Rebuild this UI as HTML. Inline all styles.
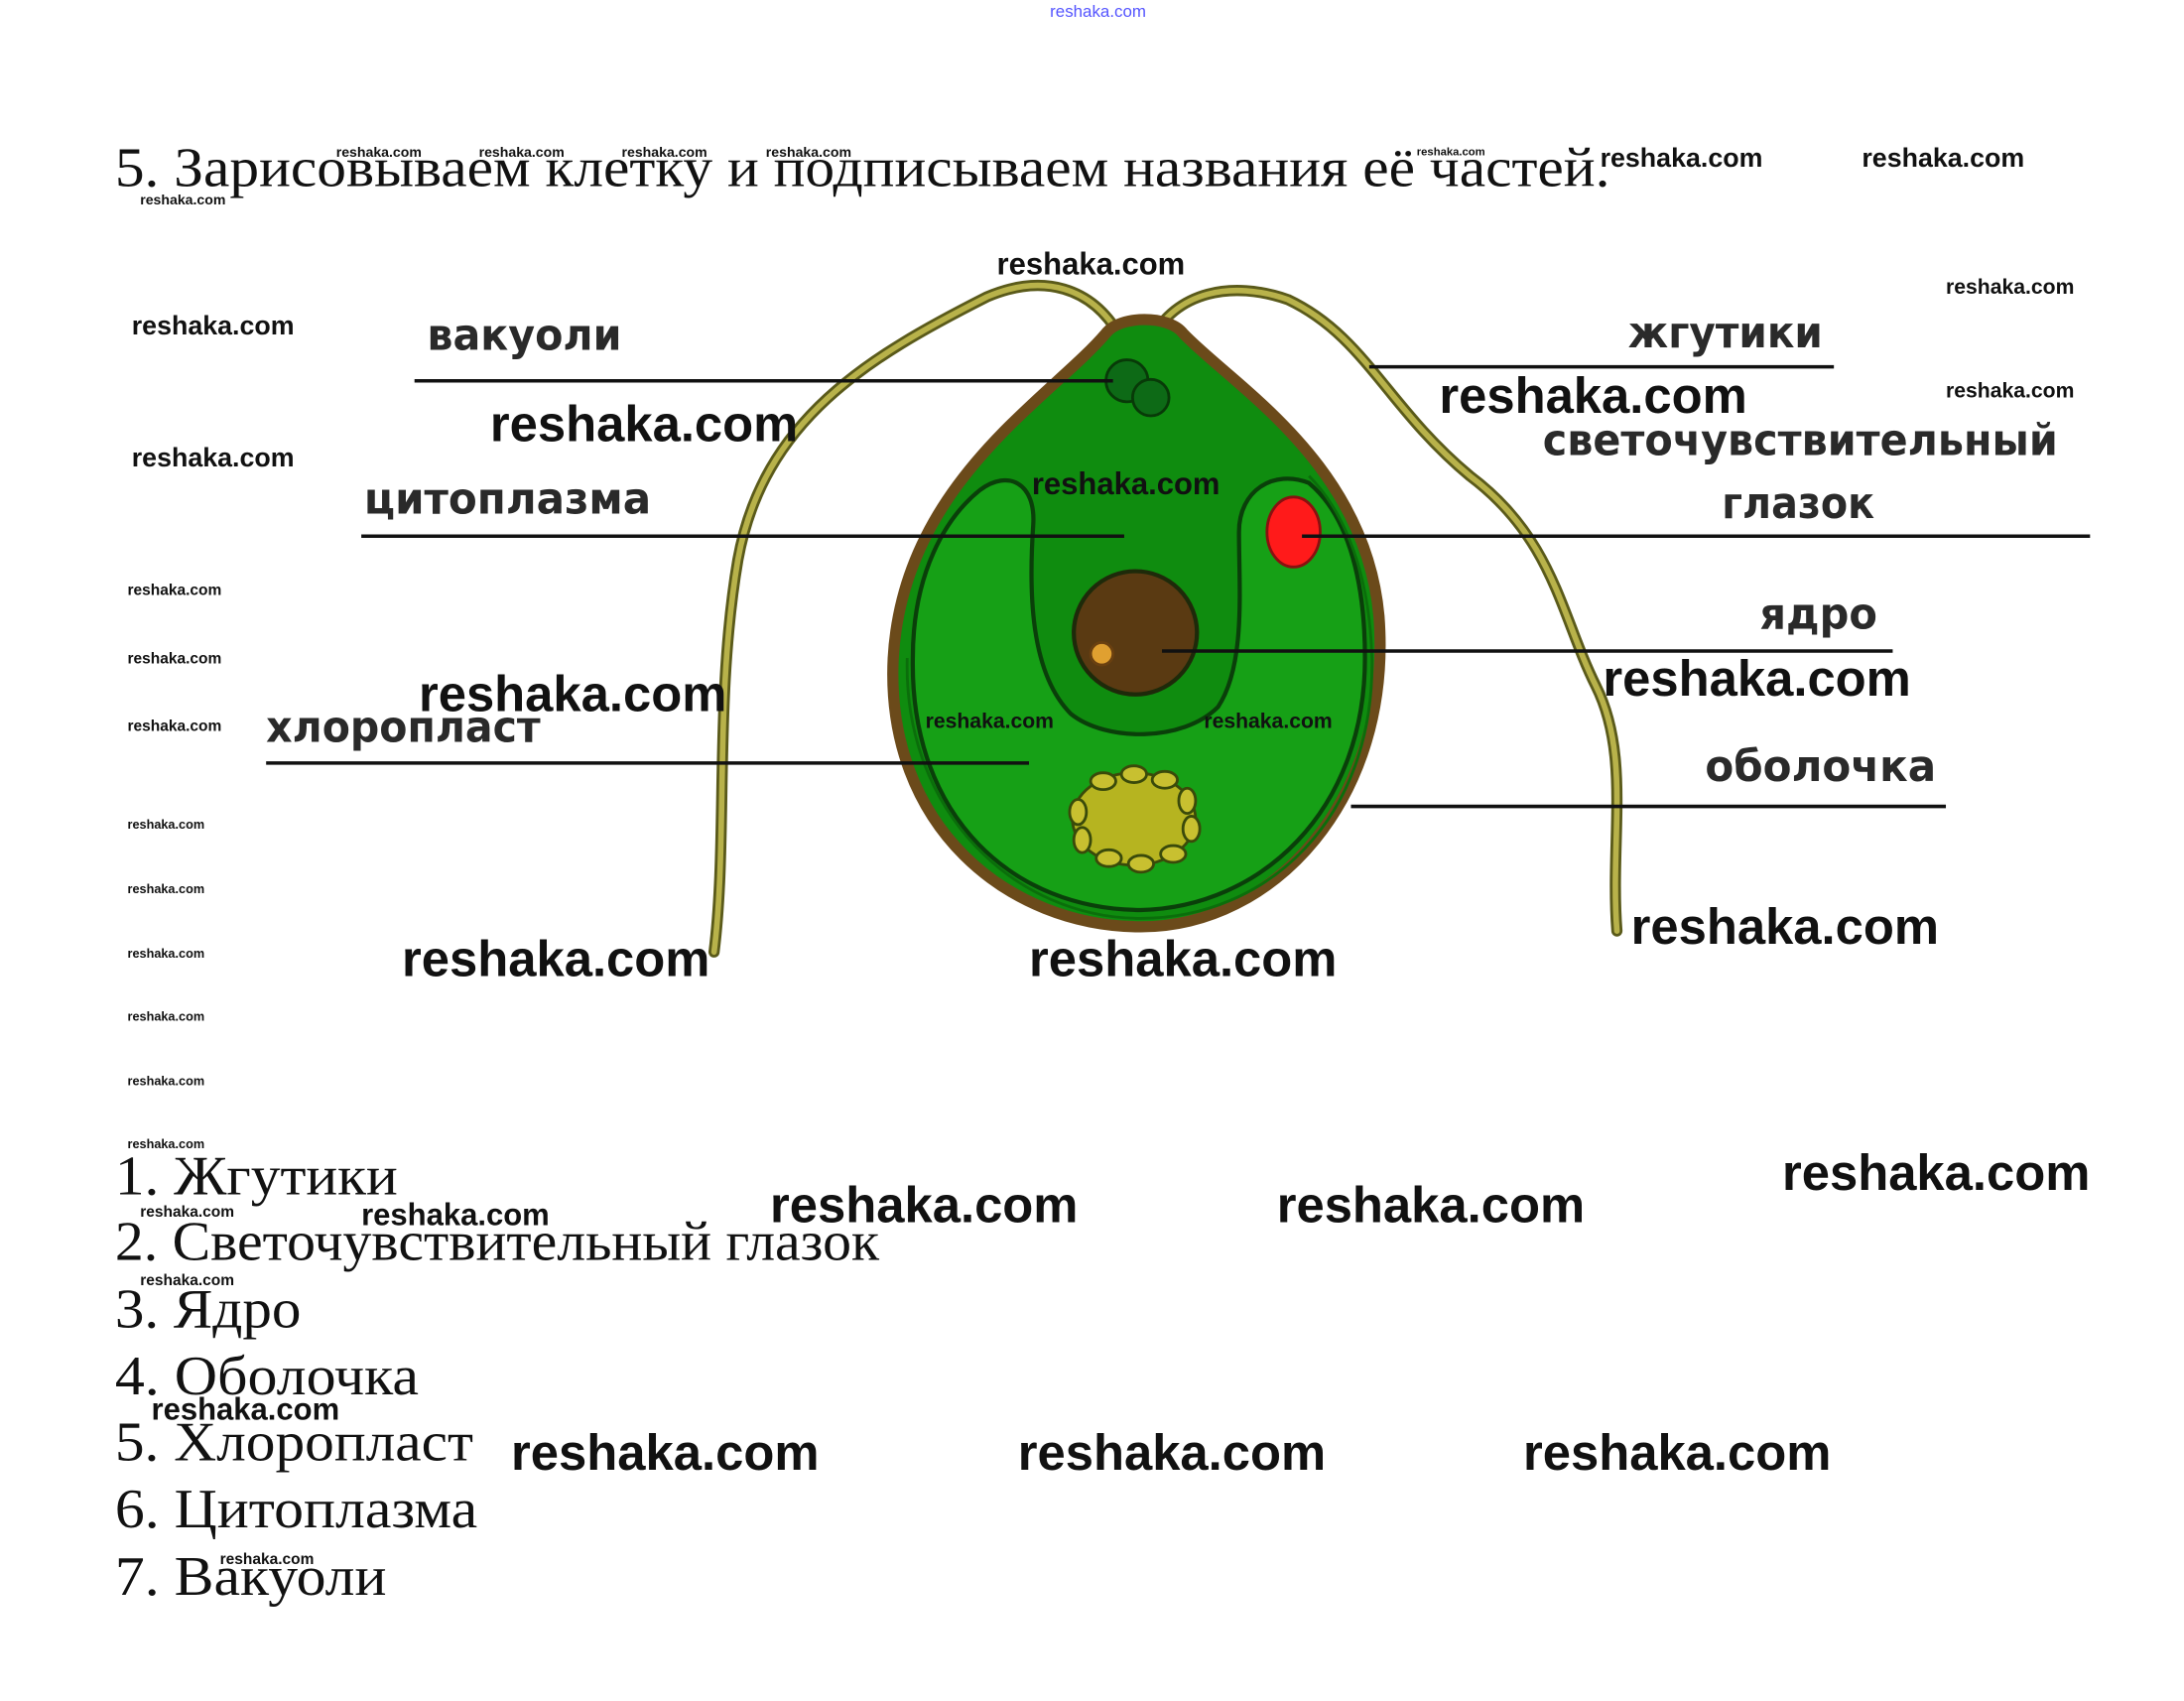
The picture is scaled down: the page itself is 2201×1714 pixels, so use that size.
<!DOCTYPE html>
<html><head><meta charset="utf-8"><style>
html,body{margin:0;padding:0;background:#fff;width:2201px;height:1714px;overflow:hidden}
svg{display:block}
.w{font-family:"Liberation Sans",sans-serif;fill:#111;font-weight:bold}
.lb{font-family:"DejaVu Sans","Liberation Sans",sans-serif;font-size:31px;fill:#2a2a2a;font-weight:bold}
.sr{font-family:"Liberation Serif","DejaVu Serif",serif;font-size:40px;fill:#111}
</style></head><body>
<svg width="2201" height="1714" viewBox="0 0 1560 1215" xmlns="http://www.w3.org/2000/svg">
<rect width="1560" height="1215" fill="#fff"/>
<text x="750" y="12" font-family="Liberation Sans" font-size="12" fill="#55f">reshaka.com</text>
<text class="sr" x="82" y="133" textLength="1068" lengthAdjust="spacingAndGlyphs">5. Зарисовываем клетку и подписываем названия её частей.</text>

<g fill="none" stroke-linecap="round">
<path d="M800,240 C780,205 745,195 705,212 C620,255 545,300 527,400 C510,500 520,600 510,680" stroke="#5a5a1a" stroke-width="8"/>
<path d="M800,240 C780,205 745,195 705,212 C620,255 545,300 527,400 C510,500 520,600 510,680" stroke="#b8b24a" stroke-width="4"/>
<path d="M822,243 C840,208 880,200 920,214 C975,240 990,290 1050,340 C1110,385 1115,440 1140,490 C1165,540 1150,600 1155,665" stroke="#5a5a1a" stroke-width="8"/>
<path d="M822,243 C840,208 880,200 920,214 C975,240 990,290 1050,340 C1110,385 1115,440 1140,490 C1165,540 1150,600 1155,665" stroke="#b8b24a" stroke-width="4"/>
</g>
<path d="M790,238 C800,225 835,225 845,238 C880,275 975,330 985,440 C995,570 910,662 815,662 C720,662 632,590 638,470 C645,345 750,285 790,238 Z" fill="#0f8c0f" stroke="#6b4a1a" stroke-width="8"/>
<path d="M700,350 C720,335 740,345 738,375 C735,420 735,480 765,510 C790,530 845,530 870,505 C890,475 885,420 885,380 C885,350 910,335 935,345 C965,370 975,420 975,470 C975,580 900,648 815,650 C725,650 650,585 652,470 C652,410 675,370 700,350 Z" fill="#16a016" stroke="#0a3f0a" stroke-width="3"/>
<path d="M648,470 C645,580 725,656 815,656 C905,656 982,585 980,470 C978,400 955,360 935,340" fill="none" stroke="#0b6e0b" stroke-width="2"/>
<circle cx="805" cy="272" r="15" fill="#0d6a16" stroke="#083a08" stroke-width="2"/>
<circle cx="822" cy="284" r="13" fill="#0d6a16" stroke="#083a08" stroke-width="2"/>
<ellipse cx="924" cy="380" rx="19" ry="25" fill="#ff1a1a" stroke="#8a1010" stroke-width="2"/>
<circle cx="811" cy="452" r="44" fill="#5a3a12" stroke="#1e2a0a" stroke-width="3"/>
<circle cx="787" cy="467" r="8" fill="#e0a030" stroke="#6a4010" stroke-width="2"/>
<ellipse cx="810" cy="585" rx="44" ry="33" fill="#b6b420" stroke="#3a4a0a" stroke-width="2"/>
<g fill="#c8c030" stroke="#3a4a0a" stroke-width="2">
<ellipse cx="810" cy="553" rx="9" ry="6"/><ellipse cx="832" cy="557" rx="9" ry="6"/><ellipse cx="848" cy="572" rx="6" ry="9"/><ellipse cx="851" cy="592" rx="6" ry="9"/><ellipse cx="838" cy="610" rx="9" ry="6"/><ellipse cx="815" cy="617" rx="9" ry="6"/><ellipse cx="792" cy="613" rx="9" ry="6"/><ellipse cx="773" cy="600" rx="6" ry="9"/><ellipse cx="770" cy="580" rx="6" ry="9"/><ellipse cx="788" cy="558" rx="9" ry="6"/>
</g>
<g stroke="#111" stroke-width="2.5">
<line x1="296" y1="272" x2="795" y2="272"/>
<line x1="258" y1="383" x2="803" y2="383"/>
<line x1="190" y1="545" x2="735" y2="545"/>
<line x1="978" y1="262" x2="1310" y2="262"/>
<line x1="930" y1="383" x2="1493" y2="383"/>
<line x1="830" y1="465" x2="1352" y2="465"/>
<line x1="965" y1="576" x2="1390" y2="576"/>
</g>
<text class="lb" x="305" y="250" textLength="139" lengthAdjust="spacingAndGlyphs">вакуоли</text>
<text class="lb" x="260" y="367" textLength="205" lengthAdjust="spacingAndGlyphs">цитоплазма</text>
<text class="lb" x="190" y="530" textLength="196" lengthAdjust="spacingAndGlyphs">хлоропласт</text>
<text class="lb" x="1163" y="248" textLength="139" lengthAdjust="spacingAndGlyphs">жгутики</text>
<text class="lb" x="1102" y="325" textLength="368" lengthAdjust="spacingAndGlyphs">светочувствительный</text>
<text class="lb" x="1230" y="370" textLength="109" lengthAdjust="spacingAndGlyphs">глазок</text>
<text class="lb" x="1257" y="449" textLength="84" lengthAdjust="spacingAndGlyphs">ядро</text>
<text class="lb" x="1218" y="558" textLength="165" lengthAdjust="spacingAndGlyphs">оболочка</text>

<g class="sr">
<text x="82" y="853" textLength="202" lengthAdjust="spacingAndGlyphs">1. Жгутики</text>
<text x="82" y="900" textLength="546" lengthAdjust="spacingAndGlyphs">2. Светочувствительный глазок</text>
<text x="82" y="948" textLength="133" lengthAdjust="spacingAndGlyphs">3. Ядро</text>
<text x="82" y="996" textLength="217" lengthAdjust="spacingAndGlyphs">4. Оболочка</text>
<text x="82" y="1043" textLength="256" lengthAdjust="spacingAndGlyphs">5. Хлоропласт</text>
<text x="82" y="1091" textLength="259" lengthAdjust="spacingAndGlyphs">6. Цитоплазма</text>
<text x="82" y="1139" textLength="194" lengthAdjust="spacingAndGlyphs">7. Вакуоли</text>
</g>

<g class="w">
<g font-size="10"><text x="240" y="112">reshaka.com</text><text x="342" y="112">reshaka.com</text><text x="444" y="112">reshaka.com</text><text x="547" y="112">reshaka.com</text><text x="100" y="146">reshaka.com</text></g>
<text x="1012" y="111" font-size="8">reshaka.com</text>
<g font-size="19"><text x="1143" y="119">reshaka.com</text><text x="1330" y="119">reshaka.com</text><text x="94" y="239">reshaka.com</text><text x="94" y="333">reshaka.com</text></g>
<g font-size="15"><text x="1390" y="210">reshaka.com</text><text x="1390" y="284">reshaka.com</text><text x="661" y="520">reshaka.com</text><text x="860" y="520">reshaka.com</text></g>
<g font-size="11"><text x="91" y="425">reshaka.com</text><text x="91" y="474">reshaka.com</text><text x="91" y="522">reshaka.com</text></g>
<g font-size="9"><text x="91" y="592">reshaka.com</text><text x="91" y="638">reshaka.com</text><text x="91" y="684">reshaka.com</text><text x="91" y="729">reshaka.com</text><text x="91" y="775">reshaka.com</text><text x="91" y="820">reshaka.com</text></g>
<g font-size="22"><text x="712" y="196">reshaka.com</text><text x="737" y="353">reshaka.com</text><text x="258" y="875">reshaka.com</text><text x="108" y="1014">reshaka.com</text></g>
<g font-size="11"><text x="100" y="869">reshaka.com</text><text x="100" y="918">reshaka.com</text><text x="157" y="1117">reshaka.com</text></g>
<g font-size="36"><text x="350" y="315">reshaka.com</text><text x="1028" y="295">reshaka.com</text><text x="299" y="508">reshaka.com</text><text x="1145" y="497">reshaka.com</text><text x="287" y="697">reshaka.com</text><text x="735" y="697">reshaka.com</text><text x="1165" y="674">reshaka.com</text><text x="1273" y="850">reshaka.com</text><text x="550" y="873">reshaka.com</text><text x="912" y="873">reshaka.com</text><text x="365" y="1050">reshaka.com</text><text x="727" y="1050">reshaka.com</text><text x="1088" y="1050">reshaka.com</text></g>
</g>
</svg>
</body></html>
